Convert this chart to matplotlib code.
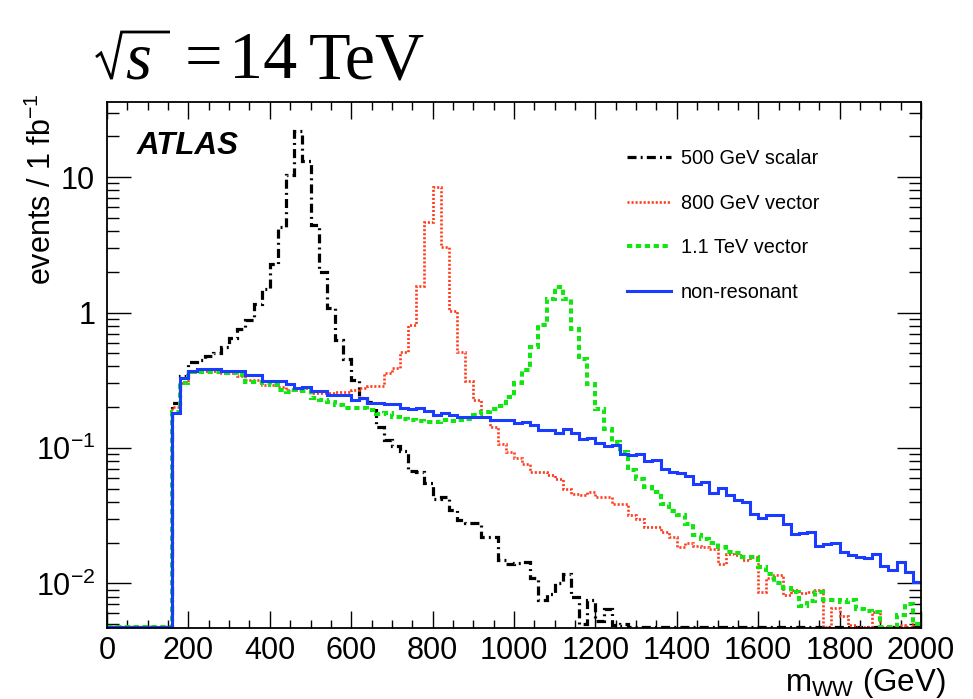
import numpy as np
import matplotlib
matplotlib.use("Agg")
import matplotlib.pyplot as plt
from matplotlib.lines import Line2D
from matplotlib.ticker import MultipleLocator, LogLocator, FuncFormatter, NullFormatter

plt.rcParams['font.family'] = ['Liberation Sans', 'DejaVu Sans']
plt.rcParams['mathtext.fontset'] = 'custom'
plt.rcParams['mathtext.rm'] = 'Liberation Sans'
plt.rcParams['mathtext.it'] = 'Liberation Sans:italic'
plt.rcParams['mathtext.bf'] = 'Liberation Sans:bold'
plt.rcParams['lines.scale_dashes'] = False

# ---------------- data (events / 1 fb^-1 per 20 GeV bin, 0-2000 GeV) -------------
bin_edges = np.arange(0, 2001, 20)

scalar_500 = [0, 0, 0, 0, 0, 0, 0, 0,
              0.215, 0.34, 0.43, 0.45, 0.48, 0.50, 0.56, 0.65, 0.75, 0.88, 1.15, 1.5,
              2.3, 4.3, 10.3, 22.0, 13.2, 4.43, 2.0, 1.08, 0.63, 0.455,
              0.32, 0.232, 0.219, 0.143, 0.114, 0.103, 0.095, 0.068, 0.066, 0.055,
              0.042, 0.0434, 0.0348, 0.0293, 0.0277, 0.0277, 0.0221, 0.0221, 0.015, 0.014,
              0.0142, 0.0144, 0.0109, 0.0076, 0.0084, 0.0101, 0.0117, 0.0079, 0.005, 0.0075,
              0.0053, 0.0065, 0.0049, 0.005, 0, 0, 0, 0, 0, 0,
              0, 0, 0, 0, 0, 0, 0, 0, 0, 0,
              0, 0, 0, 0, 0, 0, 0, 0, 0, 0,
              0, 0, 0, 0, 0, 0, 0, 0, 0, 0]

vector_800 = [0, 0, 0, 0, 0, 0, 0, 0,
              0.20, 0.30, 0.365, 0.37, 0.37, 0.37, 0.355, 0.355, 0.34, 0.317, 0.317, 0.291,
              0.291, 0.283, 0.268, 0.268, 0.275, 0.253, 0.253, 0.253, 0.26, 0.26,
              0.268, 0.275, 0.285, 0.285, 0.355, 0.39, 0.51, 0.81, 1.57, 4.68,
              8.5, 3.06, 1.03, 0.51, 0.31, 0.226, 0.17, 0.143, 0.107, 0.094,
              0.085, 0.076, 0.066, 0.066, 0.063, 0.059, 0.050, 0.046, 0.045, 0.047,
              0.0434, 0.0434, 0.0388, 0.0383, 0.032, 0.030, 0.0263, 0.0263, 0.024, 0.0221,
              0.0187, 0.0199, 0.0188, 0.0187, 0.018, 0.014, 0.0164, 0.0162, 0.0150, 0.0157,
              0.0087, 0.0109, 0.0115, 0.0082, 0.0089, 0.0085, 0.0087, 0.0090, 0, 0.0066,
              0.0057, 0.0049, 0, 0, 0.0061, 0, 0, 0.0049, 0, 0.005]

vector_1100 = [0, 0, 0, 0, 0, 0, 0, 0,
               0.185, 0.303, 0.365, 0.365, 0.365, 0.365, 0.359, 0.355, 0.346, 0.308, 0.308, 0.30,
               0.291, 0.268, 0.26, 0.268, 0.265, 0.232, 0.228, 0.219, 0.207, 0.199,
               0.199, 0.196, 0.19, 0.177, 0.18, 0.17, 0.165, 0.161, 0.158, 0.155,
               0.156, 0.16, 0.158, 0.162, 0.165, 0.175, 0.184, 0.194, 0.204, 0.239,
               0.30, 0.378, 0.56, 0.81, 1.26, 1.55, 1.27, 0.76, 0.455, 0.298,
               0.193, 0.139, 0.11, 0.094, 0.069, 0.0586, 0.0518, 0.047, 0.0385, 0.0343,
               0.0318, 0.0274, 0.0228, 0.0211, 0.0199, 0.0187, 0.0171, 0.0167, 0.0157, 0.0157,
               0.0132, 0.0117, 0.0101, 0.0092, 0.0087, 0.0068, 0.0074, 0.0087, 0.0076, 0.0076,
               0.0073, 0.0076, 0.0065, 0.0063, 0.0061, 0.0048, 0, 0.0058, 0.007, 0.005]

non_resonant = [0, 0, 0, 0, 0, 0, 0, 0,
                0.18, 0.327, 0.372, 0.383, 0.383, 0.383, 0.372, 0.372, 0.372, 0.346, 0.346, 0.314,
                0.314, 0.314, 0.296, 0.275, 0.280, 0.264, 0.264, 0.246, 0.246, 0.246,
                0.226, 0.232, 0.216, 0.214, 0.210, 0.210, 0.199, 0.193, 0.199, 0.188,
                0.175, 0.182, 0.175, 0.170, 0.170, 0.168, 0.168, 0.162, 0.160, 0.160,
                0.152, 0.156, 0.148, 0.135, 0.135, 0.129, 0.137, 0.128, 0.116, 0.118,
                0.108, 0.104, 0.106, 0.090, 0.088, 0.090, 0.080, 0.0816, 0.070, 0.0666,
                0.0654, 0.0619, 0.0542, 0.0562, 0.0466, 0.0503, 0.0450, 0.0412, 0.0396, 0.0328,
                0.0305, 0.0322, 0.0318, 0.0273, 0.0233, 0.0237, 0.0240, 0.0189, 0.0196, 0.0200,
                0.0171, 0.0162, 0.0156, 0.0153, 0.0164, 0.0134, 0.0125, 0.0144, 0.0121, 0.0103]

labels = ["500 GeV scalar", "800 GeV vector", "1.1 TeV vector", "non-resonant"]
y_tick_values = [0.01, 0.1, 1, 10]
y_tick_labels = [r"$10^{-2}$", r"$10^{-1}$", "1", "10"]

# ---------------- figure ----------------
W, H = 973, 699
fig = plt.figure(figsize=(W / 100, H / 100), dpi=100)
ax_l, ax_r, ax_t, ax_b = 107, 921, 101.5, 628.3
ax = fig.add_axes([ax_l / W, 1 - ax_b / H, (ax_r - ax_l) / W, (ax_b - ax_t) / H])

ymin, ymax = 0.00466, 36.2
floor = ymin * 1.03


def draw(vals, **kw):
    v = np.asarray(vals, dtype=float)
    v = np.where(v > 0, v, floor)
    y = np.append(v, v[-1])
    return ax.plot(bin_edges, y, drawstyle="steps-post", solid_joinstyle="miter",
                   dash_joinstyle="miter", dash_capstyle="butt", **kw)[0]


h1 = draw(scalar_500, color="black", lw=2.3, linestyle=(0, (6.5, 3.0, 1.4, 3.0)),
          label=labels[0])
h2 = draw(vector_800, color="#ff3a1c", lw=1.9, linestyle=(0, (1.5, 1.4)),
          label=labels[1])
h3 = draw(vector_1100, color="#11e611", lw=2.9, linestyle=(0, (3.8, 2.6)),
          label=labels[2])
h4 = draw(non_resonant, color="#1a3cff", lw=2.2, linestyle="-", label=labels[3])

ax.set_xlim(0, 2000)
ax.set_yscale("log")
ax.set_ylim(ymin, ymax)

ax.xaxis.set_major_locator(MultipleLocator(200))
ax.xaxis.set_minor_locator(MultipleLocator(50))
ax.yaxis.set_major_locator(LogLocator(base=10, numticks=10))
ax.yaxis.set_minor_locator(LogLocator(base=10, subs=np.arange(2, 10), numticks=20))
ax.yaxis.set_minor_formatter(NullFormatter())
tick_map = dict(zip(y_tick_values, y_tick_labels))


def yfmt(v, pos):
    for k, s in tick_map.items():
        if abs(np.log10(v) - np.log10(k)) < 1e-6:
            return s
    return ""


ax.yaxis.set_major_formatter(FuncFormatter(yfmt))
ax.xaxis.set_major_formatter(FuncFormatter(lambda v, p: f"{int(round(v))}"))

ax.tick_params(which="both", direction="in", top=True, right=True, width=1.0,
               colors="black")
ax.tick_params(axis="x", which="major", length=12.2, pad=5.5, labelsize=22)
ax.tick_params(axis="x", which="minor", length=5.8)
ax.tick_params(axis="y", which="major", length=17, pad=8.5, labelsize=22)
ax.tick_params(axis="y", which="minor", length=8.5)
for sp in ax.spines.values():
    sp.set_linewidth(1.3)

# axis titles (ROOT style: aligned to the ends of the axes)
fig.text(946 / W, 1 - 691 / H, r"m$_{\mathrm{WW}}$ (GeV)", ha="right", va="baseline",
         fontsize=22.5)
fig.text(42 / W, 1 - 93 / H, r"events / 1 fb$^{-1}$", rotation=90, ha="center",
         va="top", fontsize=22)

# ATLAS label
fig.text(137 / W, 1 - 146 / H, "ATLAS", fontsize=22.5, fontweight="bold",
         fontstyle="italic", ha="left", va="center")

# energy label: ROOT-style drawn radical over an italic s
rad_x = np.array([96, 101, 111.5, 121.5, 170]) / W
rad_y = 1 - np.array([57, 53, 79, 32, 32]) / H
fig.add_artist(Line2D(rad_x, rad_y, transform=fig.transFigure, color="black",
                      lw=2.0, solid_joinstyle="miter", solid_capstyle="butt"))
fig.text(125 / W, 1 - 78.5 / H, "s", family="Liberation Serif", fontstyle="italic",
         fontsize=48, ha="left", va="baseline")
fig.text(185 / W, 1 - 78.5 / H, "=", family="Liberation Serif", fontsize=48,
         ha="left", va="baseline")
fig.text(229 / W, 1 - 78.5 / H, "14", family="Liberation Serif", fontsize=49,
         ha="left", va="baseline")
fig.text(309 / W, 1 - 78.5 / H, "TeV", family="Liberation Serif", fontsize=49,
         ha="left", va="baseline")

leg = ax.legend(handles=[h1, h2, h3, h4], loc="upper left",
                bbox_to_anchor=(627 / W, 1 - 149 / H), bbox_transform=fig.transFigure,
                frameon=False, fontsize=14.3, handlelength=2.2, handletextpad=0.5,
                labelspacing=1.29, borderpad=0, borderaxespad=0)

fig.savefig("out.png", dpi=100, facecolor="white")
